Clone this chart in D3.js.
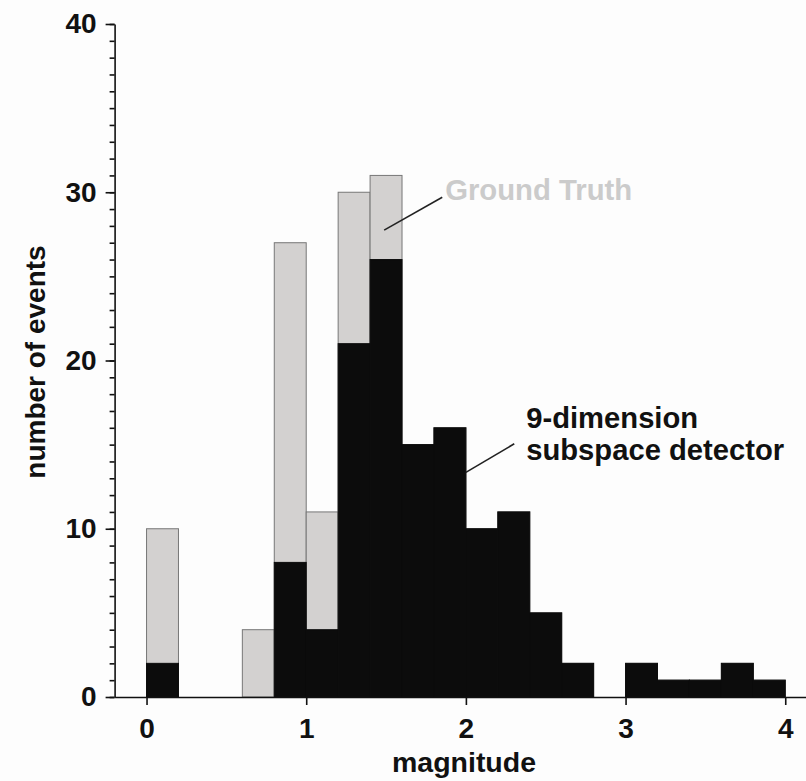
<!DOCTYPE html>
<html>
<head>
<meta charset="utf-8">
<script src="https://cdn.jsdelivr.net/npm/d3@7"></script>
<style>
  body { margin: 0; background: #fdfdfd; }
  svg text { font-family: "Liberation Sans", Arial, sans-serif; font-weight: bold; }
</style>
</head>
<body>
<div id="chart"></div>
<script>
// magnitude bins (left edge), width 0.2
var binStarts = [0, 0.2, 0.4, 0.6, 0.8, 1.0, 1.2, 1.4, 1.6, 1.8, 2.0, 2.2, 2.4, 2.6, 2.8, 3.0, 3.2, 3.4, 3.6, 3.8];
var binWidth = 0.2;
var groundTruth = [10, 0, 0, 4, 27, 11, 30, 31, 15, 16, 10, 11, 5, 2, 0, 2, 1, 1, 2, 1];
var detected    = [2, 0, 0, 0, 8, 4, 21, 26, 15, 16, 10, 11, 5, 2, 0, 2, 1, 1, 2, 1];
var xTicks = [0, 1, 2, 3, 4];
var yMajorTicks = [0, 10, 20, 30, 40];

// annotation text + leader lines, in data units
var gtLabel = { text: "Ground Truth", x: 1.87, y: 29.55, lx1: 1.852, ly1: 29.7, lx2: 1.488, ly2: 27.75 };
var detLabel = { lines: ["9-dimension", "subspace detector"], x: 2.378, y: 16.0, lx1: 2.303, ly1: 15.05, lx2: 2.0, ly2: 13.35 };

var W = 806, H = 781;
var svg = d3.select("#chart").append("svg").attr("width", W).attr("height", H);

var x = d3.scaleLinear().domain([-0.2, 4.13]).range([114.6, 806]);
var y = d3.scaleLinear().domain([0, 40]).range([697, 24]);

// bars: ground truth (grey) behind, detector (black) on top
var bins = binStarts.map(function (b, i) {
    return { x0: b, x1: b + binWidth, gt: groundTruth[i], det: detected[i] };
});

svg.append("g").selectAll("rect")
    .data(bins.filter(function (d) { return d.gt > 0; }))
    .join("rect")
    .attr("x", function (d) { return x(d.x0); })
    .attr("width", function (d) { return x(d.x1) - x(d.x0); })
    .attr("y", function (d) { return y(d.gt); })
    .attr("height", function (d) { return y(0) - y(d.gt); })
    .attr("fill", "#d3d1d0")
    .attr("stroke", "#777")
    .attr("stroke-width", 1);

svg.append("g").selectAll("rect")
    .data(bins.filter(function (d) { return d.det > 0; }))
    .join("rect")
    .attr("x", function (d) { return x(d.x0); })
    .attr("width", function (d) { return x(d.x1) - x(d.x0); })
    .attr("y", function (d) { return y(d.det); })
    .attr("height", function (d) { return y(0) - y(d.det); })
    .attr("fill", "#0c0c0c")
    .attr("stroke", "#0c0c0c")
    .attr("stroke-width", 1);

// y axis: minor ticks every 1, major every 10
var yMinor = svg.append("g").attr("transform", "translate(" + x(-0.2) + ",0)")
    .call(d3.axisLeft(y).tickValues(d3.range(0, 41)).tickSize(5).tickSizeOuter(0).tickFormat(""));
var yMajor = svg.append("g").attr("transform", "translate(" + x(-0.2) + ",0)")
    .call(d3.axisLeft(y).tickValues(yMajorTicks).tickSize(9).tickSizeOuter(0).tickPadding(9));

var xAxis = svg.append("g").attr("transform", "translate(0," + y(0) + ")")
    .call(d3.axisBottom(x).tickValues(xTicks).tickFormat(d3.format("d")).tickSize(8).tickSizeOuter(0).tickPadding(13));

[yMinor, yMajor, xAxis].forEach(function (g) {
    g.selectAll("path, line").attr("stroke", "#111").attr("stroke-width", 1.6);
    g.selectAll("text").attr("fill", "#111").style("font-size", "28px");
});
yMinor.select(".domain").remove();
xAxis.select(".domain").attr("stroke-width", 1.4);

// axis titles
svg.append("text")
    .attr("transform", "translate(45,362) rotate(-90)")
    .attr("text-anchor", "middle")
    .style("font-size", "28px")
    .attr("fill", "#111")
    .text("number of events");

svg.append("text")
    .attr("x", 464).attr("y", 772)
    .attr("text-anchor", "middle")
    .style("font-size", "28.5px")
    .attr("fill", "#111")
    .text("magnitude");

// annotations
svg.append("line")
    .attr("x1", x(gtLabel.lx1)).attr("y1", y(gtLabel.ly1))
    .attr("x2", x(gtLabel.lx2)).attr("y2", y(gtLabel.ly2))
    .attr("stroke", "#222").attr("stroke-width", 1.6);
svg.append("text")
    .attr("x", x(gtLabel.x)).attr("y", y(gtLabel.y))
    .style("font-size", "29.3px")
    .attr("fill", "#cbcbcb")
    .text(gtLabel.text);

svg.append("line")
    .attr("x1", x(detLabel.lx1)).attr("y1", y(detLabel.ly1))
    .attr("x2", x(detLabel.lx2)).attr("y2", y(detLabel.ly2))
    .attr("stroke", "#222").attr("stroke-width", 1.6);
svg.append("text")
    .attr("x", x(detLabel.x)).attr("y", y(detLabel.y))
    .style("font-size", "29.2px")
    .attr("fill", "#111")
    .selectAll("tspan")
    .data(detLabel.lines)
    .join("tspan")
    .attr("x", x(detLabel.x))
    .attr("dy", function (d, i) { return i === 0 ? 0 : 32; })
    .text(function (d) { return d; });
</script>
</body>
</html>
